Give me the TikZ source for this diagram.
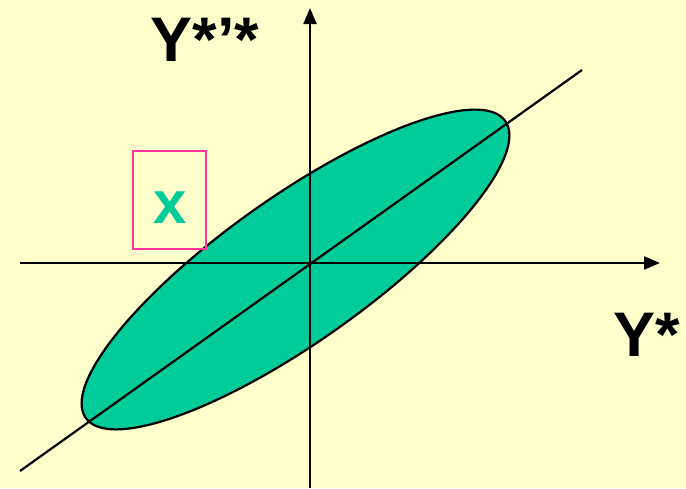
\documentclass[tikz,border=0pt]{standalone}
\usepackage{fontspec}
\setmainfont{Liberation Sans}
\usetikzlibrary{arrows.meta}
\definecolor{bgyellow}{RGB}{255,255,204}
\definecolor{blobgreen}{RGB}{0,204,153}
\definecolor{boxpink}{RGB}{255,51,153}

\begin{document}
\begin{tikzpicture}[
    x=1pt, y=-1pt,
    axis/.style={line width=2.2pt, -{Triangle[length=16pt, width=13pt]}},
    lbl/.style={font=\fontsize{63}{63}\selectfont\bfseries, inner sep=0pt},
    blob/.style={fill=blobgreen, draw=black, line width=2.2pt}
  ]

    % background and frame
    \fill[bgyellow] (0,0) rectangle (686,488);
    \useasboundingbox (0,0) rectangle (686,488);

    % the scatter ellipse
    \begin{scope}[shift={(295.5,269.5)}, rotate=35.3]
      \path[blob] (0,0) ellipse [x radius=257pt, y radius=72.5pt];
    \end{scope}

    % axes and the diagonal
    \coordinate (xstart) at (20,263);
    \coordinate (xend)   at (660,263);
    \coordinate (ystart) at (310,488);
    \coordinate (yend)   at (310,8);
    \coordinate (dstart) at (20,471);
    \coordinate (dend)   at (582,70);

    \draw[line width=2.2pt] (dstart) -- (dend);
    \draw[axis] (xstart) -- (xend);
    \draw[axis] (ystart) -- (yend);

    % labels
    \node[lbl] (ylabel) at (205,40)  {Y*’*};
    \node[lbl] (xlabel) at (647,335) {Y*};
    \node[draw=boxpink, line width=2.2pt, minimum width=73pt, minimum height=98pt] (markbox) at (169.5,200) {};
    \node[font=\fontsize{60}{60}\selectfont\bfseries, text=blobgreen, inner sep=0pt] (mark) at (170,208) {x};

  \end{tikzpicture}
\end{document}
